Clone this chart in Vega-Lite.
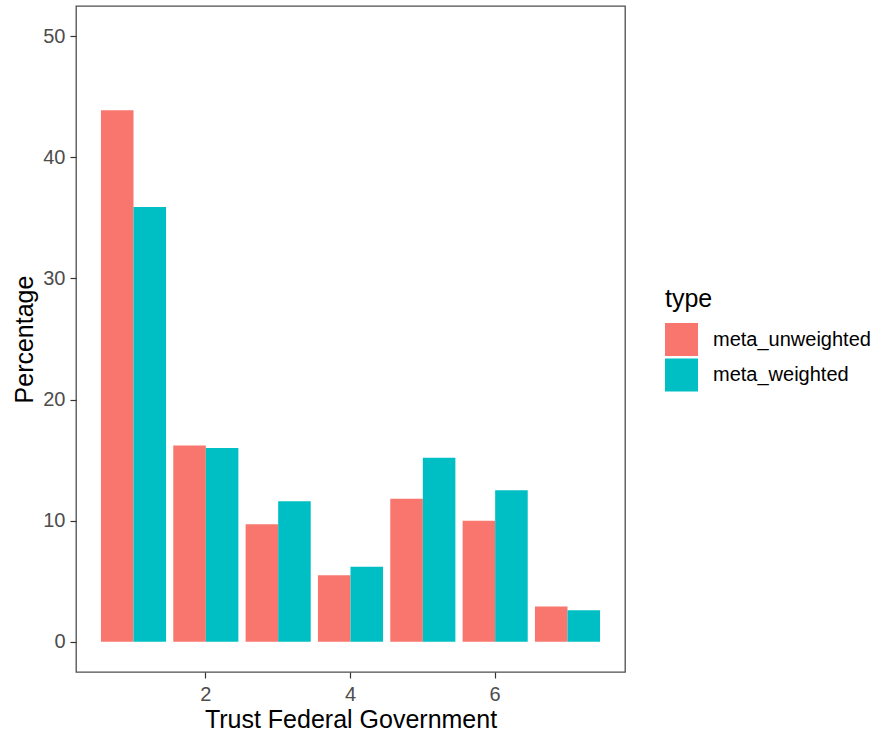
{
  "$schema": "https://vega.github.io/schema/vega-lite/v6.json",
  "width": 549,
  "height": 666,
  "autosize": {"type": "none"},
  "padding": {"left": 76, "top": 6, "right": 247, "bottom": 60},
  "background": "white",
  "data": {
    "values": [
      {"trust": 1, "type": "meta_unweighted", "pct": 43.9},
      {"trust": 1, "type": "meta_weighted", "pct": 35.9},
      {"trust": 2, "type": "meta_unweighted", "pct": 16.2},
      {"trust": 2, "type": "meta_weighted", "pct": 16.0},
      {"trust": 3, "type": "meta_unweighted", "pct": 9.7},
      {"trust": 3, "type": "meta_weighted", "pct": 11.6},
      {"trust": 4, "type": "meta_unweighted", "pct": 5.5},
      {"trust": 4, "type": "meta_weighted", "pct": 6.2},
      {"trust": 5, "type": "meta_unweighted", "pct": 11.8},
      {"trust": 5, "type": "meta_weighted", "pct": 15.2},
      {"trust": 6, "type": "meta_unweighted", "pct": 10.0},
      {"trust": 6, "type": "meta_weighted", "pct": 12.5},
      {"trust": 7, "type": "meta_unweighted", "pct": 2.9},
      {"trust": 7, "type": "meta_weighted", "pct": 2.6}
    ]
  },
  "mark": {"type": "bar"},
  "encoding": {
    "x": {
      "field": "trust",
      "type": "ordinal",
      "scale": {"domain": [1, 2, 3, 4, 5, 6, 7], "paddingInner": 0.1, "paddingOuter": 0.345},
      "axis": {
        "values": [2, 4, 6],
        "labelAngle": 0,
        "title": "Trust Federal Government",
        "titlePadding": 3
      }
    },
    "xOffset": {
      "field": "type",
      "type": "nominal",
      "scale": {"paddingInner": 0, "paddingOuter": 0}
    },
    "y": {
      "field": "pct",
      "type": "quantitative",
      "scale": {"domain": [-2.5, 52.5], "nice": false, "zero": false},
      "axis": {
        "values": [0, 10, 20, 30, 40, 50],
        "title": "Percentage",
        "titlePadding": 5,
        "labelPadding": 5
      }
    },
    "y2": {"datum": 0},
    "color": {
      "field": "type",
      "type": "nominal",
      "scale": {"domain": ["meta_unweighted", "meta_weighted"], "range": ["#F8766D", "#00BFC4"]},
      "legend": {
        "title": "type",
        "orient": "none",
        "legendX": 589,
        "legendY": 281,
        "symbolType": "square",
        "symbolSize": 1089,
        "symbolStrokeWidth": 0,
        "symbolOpacity": 1,
        "rowPadding": 2.6,
        "labelOffset": 15,
        "titlePadding": 11,
        "padding": 0
      }
    }
  },
  "config": {
    "font": "Liberation Sans",
    "view": {"stroke": "#4d4d4d", "strokeWidth": 1.3},
    "axis": {
      "domain": false,
      "grid": false,
      "ticks": true,
      "tickColor": "#333333",
      "tickSize": 6,
      "tickWidth": 1.2,
      "labelFont": "Liberation Sans",
      "labelFontSize": 20,
      "labelColor": "#4D4D4D",
      "labelPadding": 6,
      "titleFont": "Liberation Sans",
      "titleFontSize": 25,
      "titleFontWeight": "normal",
      "titleColor": "#000000"
    },
    "legend": {
      "titleFont": "Liberation Sans",
      "titleFontSize": 25,
      "titleFontWeight": "normal",
      "titleColor": "#000000",
      "labelFont": "Liberation Sans",
      "labelFontSize": 20,
      "labelColor": "#000000"
    }
  }
}
